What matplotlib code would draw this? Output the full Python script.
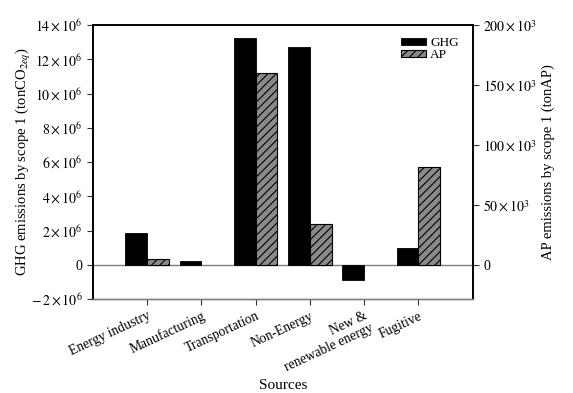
#!/usr/bin/env python3
# coding: utf-8

import numpy as np
import matplotlib
matplotlib.use('Agg')
import matplotlib.pyplot as plt
from matplotlib.ticker import FuncFormatter

plt.rcParams['font.family'] = ['Liberation Serif', 'DejaVu Serif']
plt.rcParams['mathtext.fontset'] = 'stix'
plt.rcParams['hatch.linewidth'] = 0.8

# --- data
sources = ['Energy industry', 'Manufacturing', 'Transportation', 'Non-Energy',
           'New &\nrenewable energy', 'Fugitive']
ghg = [1.87e6, 0.22e6, 13.25e6, 12.7e6, -0.86e6, 0.98e6]   # tonCO2eq
ap = [5.0e3, 0.0, 160e3, 34e3, 0.0, 82e3]                  # tonAP

ghg_ticks = [-2e6, 0, 2e6, 4e6, 6e6, 8e6, 10e6, 12e6, 14e6]
ap_ticks = [0, 50e3, 100e3, 150e3, 200e3]


def fmt_sci(exp):
    def f(v, pos):
        if v == 0:
            return '0'
        m = v / 10 ** exp
        if m < 0:
            return r'$-\,%d\times10^{%d}$' % (-m, exp)
        return r'$%d\times10^{%d}$' % (m, exp)
    return FuncFormatter(f)


fig = plt.figure(figsize=(5.73, 3.93), dpi=100)
ax = fig.add_axes([0.162, 0.239, 0.663, 0.697])
ax2 = ax.twinx()

x = np.arange(len(sources))
w = 0.4
ax.bar(x - w / 2, ghg, w, color='black', edgecolor='black', lw=0.6,
       label='GHG')
# zero-valued AP bars get no outline
ap_lw = [0.8 if v else 0 for v in ap]
ax2.bar(x + w / 2, ap, w, color='#8a8a8a', edgecolor='black', lw=ap_lw,
        hatch='////', label='AP')

ax.axhline(0, color='#7f7f7f', lw=1.0, zorder=0)

ax.set_xlim(-1, 6)
ax.set_ylim(-2e6, 14e6)
ax2.set_ylim(-200e3 * 0.125 / 0.875, 200e3)
ax.set_yticks(ghg_ticks)
ax2.set_yticks(ap_ticks)
ax.yaxis.set_major_formatter(fmt_sci(6))
ax2.yaxis.set_major_formatter(fmt_sci(3))

ax.set_xticks(x)
ax.set_xticklabels(sources, rotation=25, ha='right', rotation_mode='anchor',
                   fontsize=9.8, linespacing=1.0)

for a in (ax, ax2):
    a.tick_params(axis='y', labelsize=10)
    a.tick_params(axis='both', length=4, width=0.8, color='#333333')
    a.spines['bottom'].set_color('#7f7f7f')
    a.spines['bottom'].set_linewidth(1.0)
    for s in ('left', 'right', 'top'):
        a.spines[s].set_linewidth(1.2)

ax.set_ylabel(r'GHG emissions by scope 1 (tonCO$_{2eq}$)', fontsize=10.5)
ax.yaxis.set_label_coords(-0.158, 0.5)
ax2.set_ylabel('AP emissions by scope 1 (tonAP)', fontsize=10.5)
ax2.yaxis.set_label_coords(1.182, 0.5)
ax.set_xlabel('Sources', fontsize=11, labelpad=4)

h1, l1 = ax.get_legend_handles_labels()
h2, l2 = ax2.get_legend_handles_labels()
ax2.legend(h1 + h2, l1 + l2, loc='upper right', frameon=False, fontsize=9.5,
           handlelength=1.9, handleheight=0.5, labelspacing=0.0,
           borderaxespad=0.5, handletextpad=0.35,
           bbox_to_anchor=(0.995, 1.0))

fig.savefig('out.png', dpi=100)
